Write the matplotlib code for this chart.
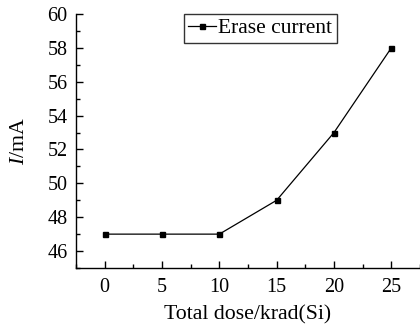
import matplotlib
matplotlib.use("Agg")
import matplotlib.pyplot as plt
from matplotlib.ticker import MultipleLocator

plt.rcParams['font.family'] = ['Liberation Serif', 'DejaVu Serif']
plt.rcParams['mathtext.fontset'] = 'custom'
plt.rcParams['mathtext.it'] = 'Liberation Serif:italic'
plt.rcParams['mathtext.rm'] = 'Liberation Serif'

dose = [0, 5, 10, 15, 20, 25]
current = [47, 47, 47, 49, 53, 58]

fig = plt.figure(figsize=(4.2, 3.29), dpi=100)
ax = fig.add_axes([76/420, 1-268/329, 1-76/420, (268-14)/329])
ax.plot(dose, current, color='black', lw=0.9, marker='s', ms=3.6, label='Erase current')
ax.set_xlim(-2.5, 27.5)
ax.set_ylim(45, 60)
ax.xaxis.set_major_locator(MultipleLocator(5))
ax.xaxis.set_minor_locator(MultipleLocator(2.5))
ax.yaxis.set_major_locator(MultipleLocator(2))
ax.yaxis.set_minor_locator(MultipleLocator(1))
ax.spines['top'].set_visible(False)
ax.spines['right'].set_visible(False)
for s in ['left', 'bottom']:
    ax.spines[s].set_linewidth(1.0)
ax.tick_params(which='major', direction='in', length=5, width=1.0, labelsize=14.5)
ax.tick_params(axis='x', which='major', pad=7)
ax.tick_params(axis='y', which='major', pad=6)
ax.tick_params(which='minor', direction='in', length=3, width=1.0)
ax.set_xlabel('Total dose/krad(Si)', fontsize=15.7, labelpad=6)
ax.set_ylabel('$I$/mA', fontsize=15.7, labelpad=13)
leg = ax.legend(loc='upper left', bbox_to_anchor=((184-76)/344, 1.0), fontsize=15.5,
                frameon=True, fancybox=False, edgecolor='black', handlelength=1.3,
                handletextpad=0.1, borderpad=0.2, borderaxespad=0.0)
leg.get_frame().set_linewidth(1.0)
fig.savefig('out.png', dpi=100)
